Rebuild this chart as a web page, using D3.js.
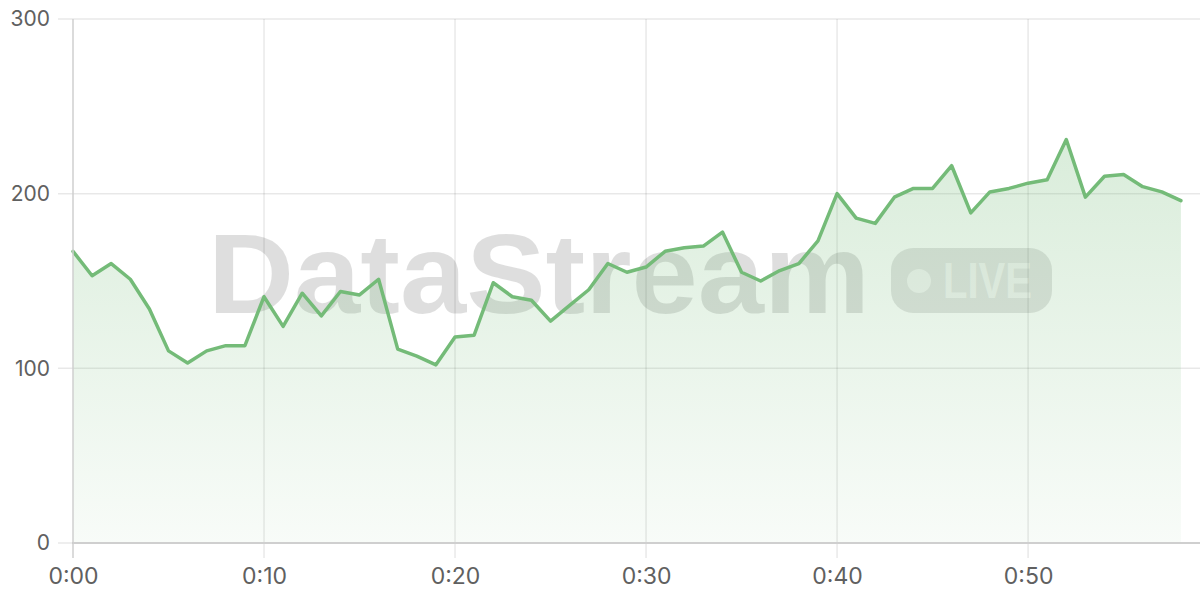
<!DOCTYPE html>
<html>
<head>
<meta charset="utf-8">
<script src="https://cdn.jsdelivr.net/npm/d3@7"></script>
<style>
  html, body { margin: 0; padding: 0; background: #fff; }
  svg { display: block; }
</style>
</head>
<body>
<svg id="chart" width="1200" height="600"></svg>
<script>
// ---- data ----
const minutes = d3.range(0, 59); // 0:00 .. 0:58
const values = [
  167, 153, 160, 151, 134, 110, 103, 110, 113, 113,
  141, 124, 143, 130, 144, 142, 151, 111, 107, 102,
  118, 119, 149, 141, 139, 127, 136, 145, 160, 155,
  158, 167, 169, 170, 178, 155, 150, 156, 160, 173,
  200, 186, 183, 198, 203, 203, 216, 189, 201, 203,
  206, 208, 231, 198, 210, 211, 204, 201, 196
];
const xTicks = [0, 10, 20, 30, 40, 50];
const xTickLabels = ["0:00", "0:10", "0:20", "0:30", "0:40", "0:50"];
const yTicks = [0, 100, 200, 300];
const watermarkText = "DataStream";
const badgeText = "LIVE";

// ---- layout ----
const svg = d3.select("#chart");
const mLeft = 73, mRight = 1200, mTop = 19, mBottom = 543;
const x = d3.scaleLinear().domain([0, 59]).range([mLeft, mRight]);
const y = d3.scaleLinear().domain([0, 300]).range([mBottom, mTop]);
const green = "rgb(116,187,120)";
const labelFont = "Inter, 'Noto Sans', sans-serif";

// gradient
const defs = svg.append("defs");
const grad = defs.append("linearGradient")
  .attr("id", "areaGrad").attr("gradientUnits", "userSpaceOnUse")
  .attr("x1", 0).attr("x2", 0).attr("y1", y(d3.max(values))).attr("y2", mBottom);
grad.append("stop").attr("offset", "0%").attr("stop-color", green).attr("stop-opacity", 0.27);
grad.append("stop").attr("offset", "100%").attr("stop-color", green).attr("stop-opacity", 0.05);

// watermark
const wm = svg.append("g");
wm.append("text")
  .attr("x", 208).attr("y", 313)
  .attr("textLength", 662).attr("lengthAdjust", "spacingAndGlyphs")
  .attr("font-family", "'Liberation Sans', Arial, sans-serif")
  .attr("font-weight", 700).attr("font-size", 114)
  .attr("fill", "rgba(0,0,0,0.13)")
  .text(watermarkText);
wm.append("rect")
  .attr("x", 891).attr("y", 248).attr("width", 161).attr("height", 65)
  .attr("rx", 22).attr("fill", "rgba(0,0,0,0.11)");
wm.append("circle")
  .attr("cx", 919).attr("cy", 281).attr("r", 12)
  .attr("fill", "rgba(255,255,255,0.6)");
wm.append("text")
  .attr("x", 943).attr("y", 298)
  .attr("textLength", 89).attr("lengthAdjust", "spacingAndGlyphs")
  .attr("font-family", "'Liberation Sans', Arial, sans-serif")
  .attr("font-weight", 700).attr("font-size", 50)
  .attr("fill", "rgba(255,255,255,0.6)")
  .text(badgeText);

// grid lines
const grid = svg.append("g");
grid.selectAll("line.h").data(yTicks.filter(d => d !== 0)).join("line")
  .attr("x1", mLeft - 15).attr("x2", mRight)
  .attr("y1", d => y(d)).attr("y2", d => y(d))
  .attr("stroke", "rgba(0,0,0,0.09)").attr("stroke-width", 1.5);
grid.selectAll("line.v").data(xTicks.filter(d => d !== 0)).join("line")
  .attr("x1", d => x(d)).attr("x2", d => x(d))
  .attr("y1", mTop).attr("y2", mBottom + 15)
  .attr("stroke", "rgba(0,0,0,0.09)").attr("stroke-width", 1.5);

// area + line
const pts = minutes.map((m, i) => [m, values[i]]);
svg.append("path")
  .datum(pts)
  .attr("fill", "url(#areaGrad)")
  .attr("d", d3.area().x(d => x(d[0])).y0(mBottom).y1(d => y(d[1])));
svg.append("path")
  .datum(pts)
  .attr("fill", "none").attr("stroke", green).attr("stroke-width", 3.5)
  .attr("stroke-linejoin", "round").attr("stroke-linecap", "round")
  .attr("d", d3.line().x(d => x(d[0])).y(d => y(d[1])));

// axes lines
svg.append("line")
  .attr("x1", mLeft).attr("x2", mLeft).attr("y1", mTop).attr("y2", mBottom + 15)
  .attr("stroke", "#cfcfcf").attr("stroke-width", 1.5);
svg.append("line")
  .attr("x1", mLeft - 15).attr("x2", mLeft).attr("y1", y(0)).attr("y2", y(0))
  .attr("stroke", "rgba(0,0,0,0.09)").attr("stroke-width", 1.5);
svg.append("line")
  .attr("x1", mLeft).attr("x2", mRight).attr("y1", mBottom).attr("y2", mBottom)
  .attr("stroke", "#cfcfcf").attr("stroke-width", 2);

// y labels via d3 axis
const yAxis = svg.append("g").attr("transform", `translate(${mLeft - 23},0)`)
  .call(d3.axisLeft(y).tickValues(yTicks).tickSize(0).tickPadding(0).tickFormat(d3.format("d")));
yAxis.select(".domain").remove();
yAxis.selectAll("text")
  .attr("font-family", labelFont).attr("font-size", 21).attr("fill", "#606060");

// x labels via d3 axis
const xAxis = svg.append("g").attr("transform", `translate(0,${mBottom + 25})`)
  .call(d3.axisBottom(x).tickValues(xTicks).tickSize(0).tickPadding(0)
    .tickFormat((d, i) => xTickLabels[i]));
xAxis.select(".domain").remove();
xAxis.selectAll("text")
  .attr("font-family", labelFont).attr("font-size", 23).attr("fill", "#606060");
</script>
</body>
</html>
